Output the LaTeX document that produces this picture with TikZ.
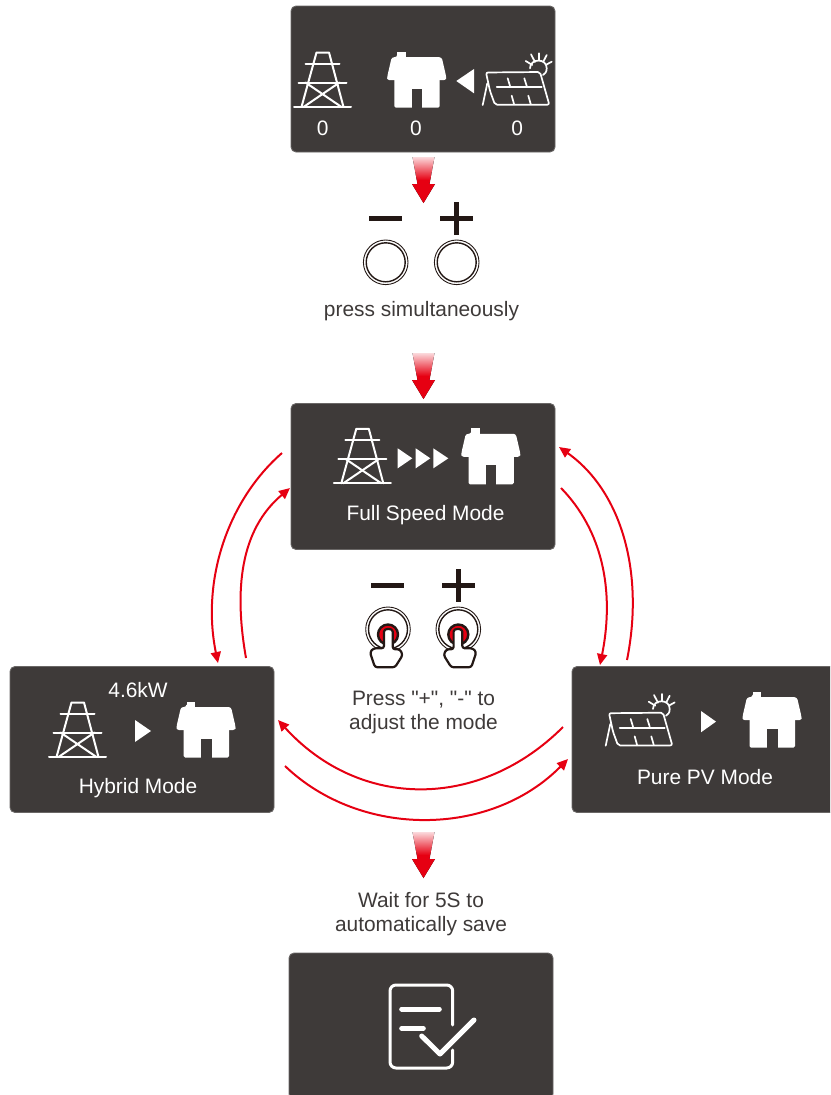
\documentclass[tikz,border=0pt]{standalone}
\usepackage{fontspec}
\setmainfont{Liberation Sans}
\usetikzlibrary{arrows.meta}
\definecolor{cardc}{HTML}{3E3A39}
\definecolor{edgec}{HTML}{6A6766}
\definecolor{redc}{HTML}{E60012}
\definecolor{inkc}{HTML}{231815}
\tikzset{
  x=1pt,y=-1pt,
  card/.style={draw=edgec,line width=0.9pt,fill=cardc,rounded corners=5pt,minimum width=264pt,minimum height=146pt,inner sep=0pt},
  lab/.style={font=\fontsize{20.9}{24}\selectfont,text=cardc,inner sep=0pt,anchor=base,align=center},
  wlab/.style={lab,text=white},
  icon/.style={draw=white,line width=2pt,line cap=round,line join=round},
  thinicon/.style={icon,line width=1.7pt},
  curve/.style={draw=redc,line width=2pt,-{Triangle[length=11pt,width=10pt]}},
  tower/.pic={
    \draw[icon] (-28.5,0)--(28.5,0);
    \draw[icon] (-21,0)--(-6,-54.5)--(6.5,-54.5)--(21,0);
    \draw[icon] (-17,-43.5)--(17,-43.5);
    \draw[icon] (-24,-24.5)--(24,-24.5);
    \draw[icon] (-17,-24.5)--(19,0);
    \draw[icon] (17,-24.5)--(-19,0);
  },
  house/.pic={
    \fill[white,rounded corners=2.5pt] (-19.5,-50.5)--(-19.5,-50.5)--(-25,-50.5)--(-29.5,-31)--(-29.5,-27.5)--(29.5,-27.5)--(29.5,-31)--(25,-50.5)--cycle;
    \fill[white] (-19.5,-49)--(-19.5,-56)--(-11,-56)--(-11,-49)--cycle;
    \fill[white,rounded corners=1.5pt] (-22.3,-30)--(23,-30)--(23,0)--(-22.3,0)--cycle;
    \fill[cardc] (-5,-19)--(5.5,-19)--(5.5,0.2)--(-5,0.2)--cycle;
  },
  panel/.pic={
    \draw[thinicon,rounded corners=2pt] (1,-32.5)--(55,-33)--(64.3,-0.3)--(10,-0.3)--(5,-14)--cycle;
    \draw[thinicon] (2.3,-21.7)--(-2.3,0);
    \draw[thinicon] (11.7,-17.7)--(56.7,-17.7);
    \draw[thinicon] (22.7,-26.7)--(25,-19) (39.3,-26.7)--(41.7,-19) (26.7,-9.3)--(29,-1) (43.3,-9.3)--(45.7,-1);
    \draw[thinicon] (45,-36.7) .. controls (45,-47) and (62,-47) .. (61.7,-36.7) .. controls (61.7,-33) and (60,-31) .. (58,-30);
    \draw[thinicon] (40.7,-44)--(47.3,-40) (46,-50.7)--(50,-43) (54,-51.7)--(54,-45) (61.7,-50)--(58.3,-43.3) (66.7,-43.3)--(60.7,-40);
  },
  redarrow/.pic={
    \fill[top color=redc!15,bottom color=redc,middle color=redc] (-11,0)--(11,0)--(6,27)--(11.5,27)--(0,46)--(-11.5,27)--(-6,27)--cycle;
  },
  minussign/.pic={\fill[inkc] (-16.5,-2.5) rectangle (16.5,2.5);},
  plussign/.pic={\fill[inkc] (-16.5,-2.5) rectangle (16.5,2.5); \fill[inkc] (-2.5,-16.5) rectangle (2.5,16.5);},
  ring/.pic={
    \draw[inkc,line width=0.9pt] (0,0) circle[radius=22.3pt];
    \draw[inkc,line width=1.4pt] (0,0) circle[radius=19.5pt];
  },
  hand/.pic={
    \draw[inkc,line width=2.2pt,fill=white,line join=round,rounded corners=2.5pt]
      (-4,0) .. controls (-4,-6) and (4.7,-6) .. (4.7,0) -- (4.7,15.3) -- (12,15.3) -- (14.7,21) -- (7,33.3) -- (-13,33.3) -- (-18,18.3) -- (-14.7,14.3) -- (-4,14.3) -- cycle;
  },
  dot/.pic={\fill[redc,draw=inkc,line width=2.4pt] (0,0) circle[radius=10pt];}
}
\begin{document}
\begin{tikzpicture}
\path[clip] (0,0) rectangle (830,1095);
% cards
\node[card] (top) at (423,79) {};
\node[card] (full) at (423,476.5) {};
\node[card] (hybrid) at (142,739.5) {};
\node[card] (pure) at (704,739.5) {};
\node[card] (saved) at (421,1026) {};
% top card
\pic at (322.5,107) {tower};
\pic at (416.7,107.7) {house};
\fill[white] (456.3,81)--(474,69)--(474,93.3)--cycle;
\pic at (485,105) {panel};
\node[wlab] (z1) at (322.7,135) {0};
\node[wlab] (z2) at (416,135) {0};
\node[wlab] (z3) at (517.3,135) {0};
% buttons
\pic at (423.5,157) {redarrow};
\pic at (385.5,218) {minussign};
\pic at (456.5,218) {plussign};
\pic at (385.7,262.3) {ring};
\pic at (456.7,262.3) {ring};
\node[lab] (press) at (421.5,316) {press simultaneously};
\pic at (423.5,353) {redarrow};
% full card
\pic at (362.3,483.3) {tower};
\pic at (490.8,484.3) {house};
\fill[white] (397.7,448.3)--(412.3,458.3)--(397.7,468.3)--cycle;
\fill[white] (415.7,448.3)--(430.3,458.3)--(415.7,468.3)--cycle;
\fill[white] (433.3,448.3)--(448.3,458.3)--(433.3,468.3)--cycle;
\node[wlab] (fulllab) at (425.5,520.5) {Full Speed Mode};
% middle
\pic at (387.8,585) {minussign};
\pic at (458.7,585) {plussign};
\pic at (388,629.3) {ring};
\pic at (458.3,629.3) {ring};
\pic at (388,634.5) {dot};
\pic at (458.3,634.5) {dot};
\pic at (388,634) {hand};
\pic[xscale=-1] at (458.3,634) {hand};
\node[lab] (adjust) at (423.5,712.5) [anchor=center] {Press \textquotedbl+\textquotedbl, \textquotedbl-\textquotedbl{} to\\adjust the mode};
% hybrid
\node[wlab] (kw) at (138,697) {4.6kW};
\pic at (77.5,757) {tower};
\pic at (206,757.5) {house};
\fill[white] (135,720)--(151,731)--(135,742)--cycle;
\node[wlab] (hyblab) at (138,793) {Hybrid Mode};
% pure
\pic at (608,745.7) {panel};
\fill[white] (701,711)--(716,721.6)--(701,732.3)--cycle;
\pic at (772,747.7) {house};
\node[wlab] (purelab) at (705,784) {Pure PV Mode};
% wait
\pic at (423.5,832) {redarrow};
\node[lab] (wait) at (421,914) [anchor=center] {Wait for 5S to\\automatically save};
% document icon
\draw[white,line width=3pt,line cap=round,rounded corners=6pt] (452.7,1025)--(452.7,985)--(390,985)--(390,1068)--(452.7,1068)--(452.7,1050);
\draw[white,line width=5pt,line cap=round] (401.7,1009)--(439.3,1009);
\draw[white,line width=5pt,line cap=round] (401.7,1028.3)--(423.3,1028.3);
\draw[white,line width=5pt,line cap=round,line join=round] (421.7,1036)--(440,1054)--(474,1020);
% curved connectors
\coordinate (a1) at (282,453); \coordinate (a2) at (218,663);
\coordinate (b1) at (246,658); \coordinate (b2) at (290,488);
\coordinate (c1) at (561,488); \coordinate (c2) at (600,665);
\coordinate (d1) at (627,660); \coordinate (d2) at (559,447);
\coordinate (e1) at (563,727); \coordinate (e2) at (278,720);
\coordinate (f1) at (285,766); \coordinate (f2) at (568,759);
\draw[curve] (a1) .. controls (228,500) and (201,580) .. (a2);
\draw[curve] (b1) .. controls (234,590) and (240,530) .. (b2);
\draw[curve] (c1) .. controls (602,530) and (615,590) .. (c2);
\draw[curve] (d1) .. controls (645,570) and (620,490) .. (d2);
\draw[curve] (e1) .. controls (480,810) and (360,810) .. (e2);
\draw[curve] (f1) .. controls (360,838) and (490,838) .. (f2);
\end{tikzpicture}
\end{document}
